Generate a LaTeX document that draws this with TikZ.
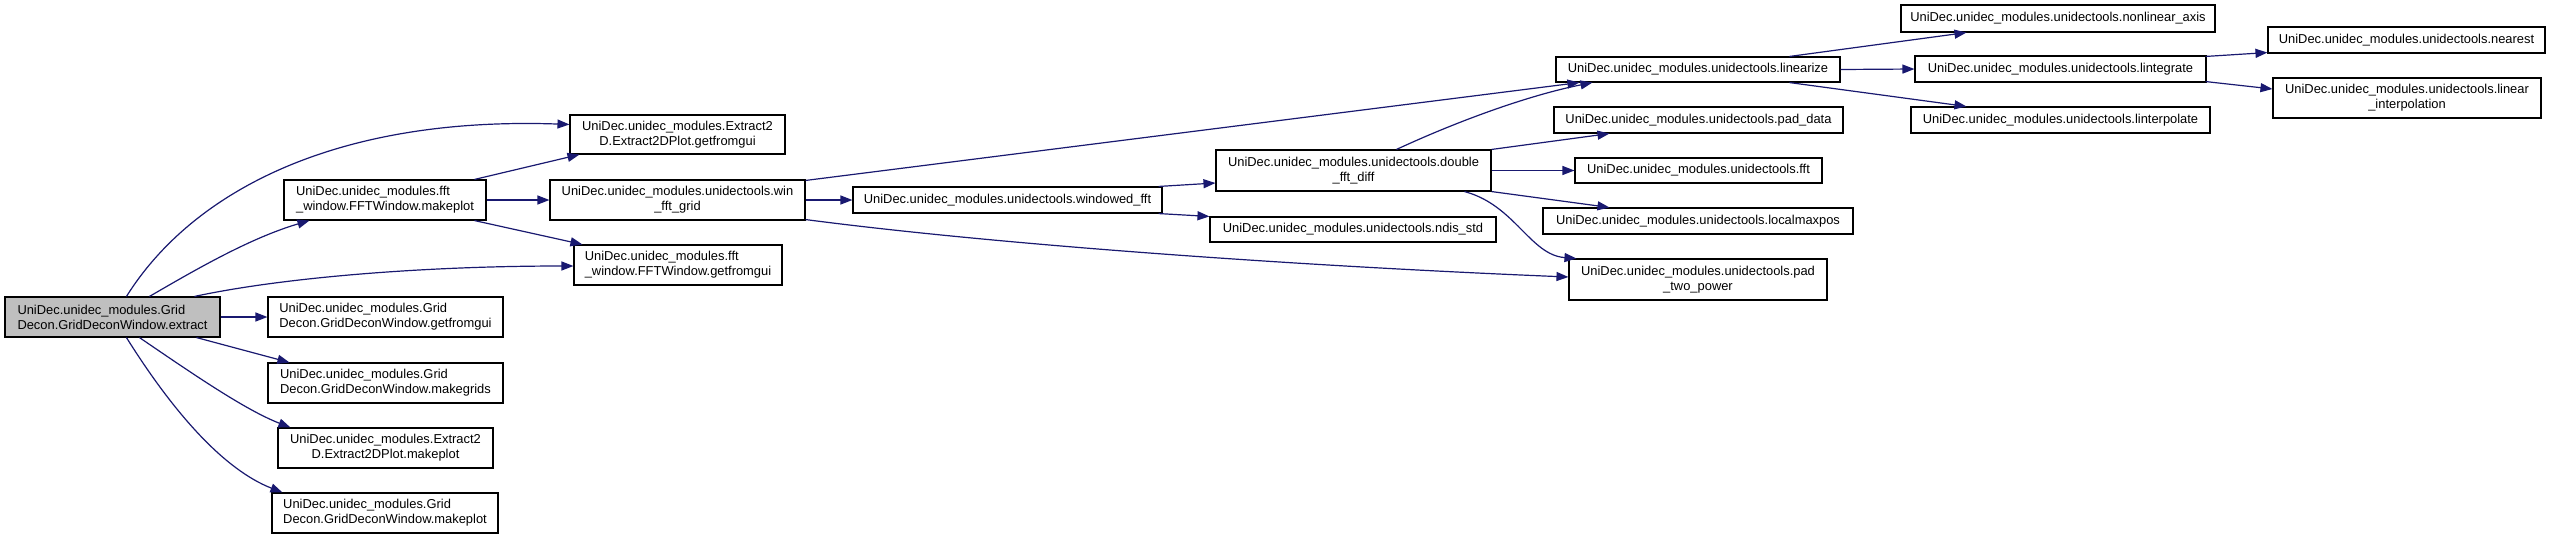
\documentclass[tikz,border=0pt]{standalone}
\usepackage{fontspec}
\setmainfont{Liberation Sans}
\usetikzlibrary{arrows.meta,calc}
\definecolor{edgeblue}{HTML}{191970}
\definecolor{rootgray}{HTML}{BFBFBF}
\begin{document}
\begin{tikzpicture}[x=1pt,y=-1pt,
  fn/.style={draw=black,line width=1.1pt,fill=white,inner sep=0pt,font=\fontsize{12.9}{15}\selectfont,text=black},
  root/.style={fn,fill=rootgray},
  call/.style={draw=edgeblue,line width=1.2pt,-{Triangle[length=12pt,width=9pt]}}]
\fill[white] (0,0) rectangle (2552,539);
\useasboundingbox (0,0) rectangle (2552,539);

% nodes
\node[root,minimum width=215pt,minimum height=40pt,align=left] (extract) at (112.5,317) {UniDec.unidec\_modules.Grid\\Decon.GridDeconWindow.extract};
\node[fn,minimum width=202pt,minimum height=40pt,align=left] (fftmk) at (385,200) {UniDec.unidec\_modules.fft\\\_window.FFTWindow.makeplot};
\node[fn,minimum width=235pt,minimum height=40pt,align=left] (gdgetgui) at (385.5,317) {UniDec.unidec\_modules.Grid\\Decon.GridDeconWindow.getfromgui};
\node[fn,minimum width=235pt,minimum height=40pt,align=left] (gdmakegrids) at (385.5,383) {UniDec.unidec\_modules.Grid\\Decon.GridDeconWindow.makegrids};
\node[fn,minimum width=215pt,minimum height=40pt,align=center] (e2dmakeplot) at (385.5,448) {UniDec.unidec\_modules.Extract2\\D.Extract2DPlot.makeplot};
\node[fn,minimum width=226pt,minimum height=40pt,align=left] (gdmakeplot) at (385,513) {UniDec.unidec\_modules.Grid\\Decon.GridDeconWindow.makeplot};
\node[fn,minimum width=215pt,minimum height=39pt,align=center] (e2dgetgui) at (677.5,134.5) {UniDec.unidec\_modules.Extract2\\D.Extract2DPlot.getfromgui};
\node[fn,minimum width=255pt,minimum height=40pt,align=center] (winfft) at (677.5,200) {UniDec.unidec\_modules.unidectools.win\\\_fft\_grid};
\node[fn,minimum width=208pt,minimum height=40pt,align=left] (fftgetgui) at (678,265) {UniDec.unidec\_modules.fft\\\_window.FFTWindow.getfromgui};
\node[fn,minimum width=309pt,minimum height=26pt] (windowed) at (1007.5,200) {UniDec.unidec\_modules.unidectools.windowed\_fft};
\node[fn,minimum width=275pt,minimum height=41pt,align=center] (double) at (1353.5,170.5) {UniDec.unidec\_modules.unidectools.double\\\_fft\_diff};
\node[fn,minimum width=286pt,minimum height=25pt] (ndis) at (1353,229.5) {UniDec.unidec\_modules.unidectools.ndis\_std};
\node[fn,minimum width=284pt,minimum height=25pt] (linearize) at (1698,69.5) {UniDec.unidec\_modules.unidectools.linearize};
\node[fn,minimum width=289pt,minimum height=26pt] (paddata) at (1698.5,120) {UniDec.unidec\_modules.unidectools.pad\_data};
\node[fn,minimum width=247pt,minimum height=25pt] (fft) at (1698.5,170.5) {UniDec.unidec\_modules.unidectools.fft};
\node[fn,minimum width=310pt,minimum height=26pt] (localmax) at (1698,221) {UniDec.unidec\_modules.unidectools.localmaxpos};
\node[fn,minimum width=258pt,minimum height=41pt,align=center] (padtwo) at (1698,279.5) {UniDec.unidec\_modules.unidectools.pad\\\_two\_power};
\node[fn,minimum width=314pt,minimum height=27pt] (nonlinear) at (2058,18.5) {UniDec.unidec\_modules.unidectools.nonlinear\_axis};
\node[fn,minimum width=291pt,minimum height=26pt] (lintegrate) at (2060.5,69) {UniDec.unidec\_modules.unidectools.lintegrate};
\node[fn,minimum width=299pt,minimum height=26pt] (linterpolate) at (2060.5,120) {UniDec.unidec\_modules.unidectools.linterpolate};
\node[fn,minimum width=277pt,minimum height=26pt] (nearest) at (2406.5,40) {UniDec.unidec\_modules.unidectools.nearest};
\node[fn,minimum width=268pt,minimum height=40pt,align=center] (linearinterp) at (2407,98) {UniDec.unidec\_modules.unidectools.linear\\\_interpolation};

% edges from extract
\draw[call] ($(extract.north west)+(122,0)$) .. controls (190,195) and (330,116) .. ($(e2dgetgui.north west)+(0,10)$);
\draw[call] ($(extract.north west)+(145,0)$) .. controls (195,270) and (250,238) .. ($(fftmk.south west)+(26,0)$);
\draw[call] ($(extract.north west)+(190,0)$) .. controls (280,278) and (420,266) .. ($(fftgetgui.west)+(0,1)$);
\draw[call] (extract.east) -- (gdgetgui.west);
\draw[call] ($(extract.south west)+(192,0)$) -- ($(gdmakegrids.north west)+(22,0)$);
\draw[call] ($(extract.south west)+(135,0)$) .. controls (190,372) and (245,410) .. ($(e2dmakeplot.north west)+(13,0)$);
\draw[call] ($(extract.south west)+(122,0)$) .. controls (175,415) and (225,470) .. ($(gdmakeplot.north west)+(11,0)$);

% edges from fft makeplot
\draw[call] ($(fftmk.north west)+(191,0)$) -- ($(e2dgetgui.south west)+(10,0)$);
\draw[call] (fftmk.east) -- (winfft.west);
\draw[call] ($(fftmk.south west)+(191,0)$) -- ($(fftgetgui.north west)+(9,0)$);

% edges from win_fft_grid
\draw[call] ($(winfft.north east)+(0,1)$) -- ($(linearize.south west)+(24,0)$);
\draw[call] (winfft.east) -- (windowed.west);
\draw[call] ($(winfft.south east)+(0,-1)$) .. controls (1000,245) and (1300,266) .. ($(padtwo.west)+(0,-2.5)$);

% edges from windowed_fft
\draw[call] ($(windowed.north east)+(-4,0)$) -- ($(double.west)+(0,12.5)$);
\draw[call] ($(windowed.south east)+(-4,0)$) -- (ndis.north west);

% edges from double_fft_diff
\draw[call] ($(double.north west)+(181,0)$) .. controls (1460,120) and (1530,95) .. ($(linearize.south west)+(37,0)$);
\draw[call] (double.north east) -- ($(paddata.south west)+(56,0)$);
\draw[call] (double.east) -- (fft.west);
\draw[call] (double.south east) -- ($(localmax.north west)+(67,0)$);
\draw[call] ($(double.south west)+(249,0)$) .. controls (1515,205) and (1530,255) .. ($(padtwo.north west)+(8,0)$);

% edges from linearize
\draw[call] ($(linearize.north west)+(234,0)$) -- ($(nonlinear.south west)+(66,0)$);
\draw[call] (linearize.east) -- (lintegrate.west);
\draw[call] ($(linearize.south west)+(234,0)$) -- ($(linterpolate.north west)+(56,0)$);

% edges from lintegrate
\draw[call] ($(lintegrate.north east)+(-1,1)$) -- ($(nearest.south west)+(0,-1)$);
\draw[call] ($(lintegrate.south east)+(-1,-1)$) -- ($(linearinterp.west)+(0,-9)$);
\end{tikzpicture}
\end{document}
